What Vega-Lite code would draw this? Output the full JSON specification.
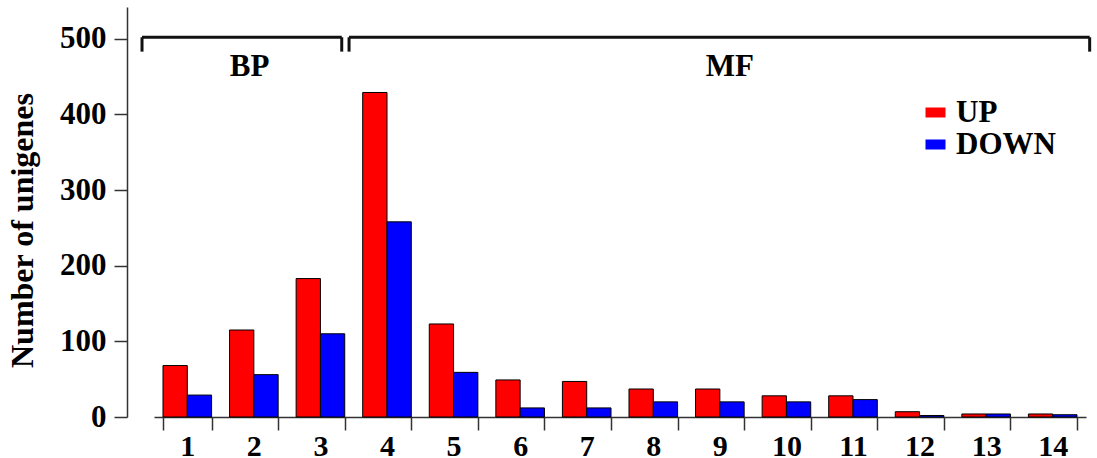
{
  "$schema": "https://vega.github.io/schema/vega-lite/v6.json",
  "width": 932,
  "height": 410,
  "autosize": {"type": "none"},
  "padding": {"left": 154, "top": 7, "right": 11, "bottom": 41},
  "background": "white",
  "config": {"view": {"stroke": null}, "font": "Liberation Serif"},
  "layer": [
    {
      "data": {"values": [
        {"category": 1, "series": "UP", "value": 68},
        {"category": 1, "series": "DOWN", "value": 29},
        {"category": 2, "series": "UP", "value": 115},
        {"category": 2, "series": "DOWN", "value": 56},
        {"category": 3, "series": "UP", "value": 183},
        {"category": 3, "series": "DOWN", "value": 110},
        {"category": 4, "series": "UP", "value": 429},
        {"category": 4, "series": "DOWN", "value": 258},
        {"category": 5, "series": "UP", "value": 123},
        {"category": 5, "series": "DOWN", "value": 59},
        {"category": 6, "series": "UP", "value": 49},
        {"category": 6, "series": "DOWN", "value": 12},
        {"category": 7, "series": "UP", "value": 47},
        {"category": 7, "series": "DOWN", "value": 12},
        {"category": 8, "series": "UP", "value": 37},
        {"category": 8, "series": "DOWN", "value": 20},
        {"category": 9, "series": "UP", "value": 37},
        {"category": 9, "series": "DOWN", "value": 20},
        {"category": 10, "series": "UP", "value": 28},
        {"category": 10, "series": "DOWN", "value": 20},
        {"category": 11, "series": "UP", "value": 28},
        {"category": 11, "series": "DOWN", "value": 23},
        {"category": 12, "series": "UP", "value": 7},
        {"category": 12, "series": "DOWN", "value": 2},
        {"category": 13, "series": "UP", "value": 4},
        {"category": 13, "series": "DOWN", "value": 4},
        {"category": 14, "series": "UP", "value": 4},
        {"category": 14, "series": "DOWN", "value": 3}
      ]},
      "mark": {"type": "bar", "stroke": "#000000", "strokeWidth": 1},
      "encoding": {
        "x": {
          "field": "category", "type": "ordinal",
          "scale": {"paddingInner": 0.27, "paddingOuter": 0.135},
          "axis": {
            "title": null, "labelAngle": 0, "tickBand": "extent",
            "labelFont": "Liberation Serif", "labelFontWeight": "bold", "labelFontSize": 30, "labelColor": "#000000",
            "tickSize": 13, "labelPadding": 1,
            "domainColor": "#333333", "tickColor": "#333333", "domainWidth": 1.5, "tickWidth": 1.5
          }
        },
        "xOffset": {"field": "series", "type": "nominal", "sort": ["UP", "DOWN"], "scale": {"paddingInner": 0, "paddingOuter": 0}},
        "y": {
          "field": "value", "type": "quantitative",
          "scale": {"domain": [0, 542], "nice": false},
          "axis": {
            "title": "Number of unigenes", "values": [0, 100, 200, 300, 400, 500], "offset": 27, "grid": false,
            "labelFont": "Liberation Serif", "labelFontWeight": "bold", "labelFontSize": 31, "labelColor": "#000000",
            "tickSize": 13, "labelPadding": 8,
            "domainColor": "#333333", "tickColor": "#333333", "domainWidth": 1.5, "tickWidth": 1.5,
            "titleFont": "Liberation Serif", "titleFontWeight": "bold", "titleFontSize": 32, "titleColor": "#000000",
            "titleX": -95, "titleY": 223, "titleAngle": -90, "titleBaseline": "alphabetic", "titleAlign": "center"
          }
        },
        "color": {
          "field": "series", "type": "nominal",
          "scale": {"domain": ["UP", "DOWN"], "range": ["#ff0000", "#0000ff"]},
          "legend": {
            "title": null, "orient": "none", "legendX": 766, "legendY": 90, "padding": 0,
            "symbolType": "M-1,-0.5H1V0.5H-1Z", "symbolSize": 400, "symbolStrokeWidth": 0,
            "labelFont": "Liberation Serif", "labelFontWeight": "bold", "labelFontSize": 31, "labelColor": "#000000",
            "rowPadding": 0, "labelOffset": 5
          }
        }
      }
    },
    {
      "data": {"values": [
        {"x": -0.18, "x2": 2.82, "y": 502, "y2": 502},
        {"x": -0.18, "x2": -0.18, "y": 483, "y2": 502},
        {"x": 2.82, "x2": 2.82, "y": 483, "y2": 502},
        {"x": 2.93, "x2": 14.055, "y": 502, "y2": 502},
        {"x": 2.93, "x2": 2.93, "y": 483, "y2": 502},
        {"x": 14.055, "x2": 14.055, "y": 483, "y2": 502}
      ]},
      "mark": {"type": "rule", "strokeWidth": 3, "color": "#111111"},
      "encoding": {
        "x": {"field": "x", "type": "quantitative", "scale": {"domain": [0, 14], "nice": false, "zero": false}, "axis": null},
        "x2": {"field": "x2"},
        "y": {"field": "y", "type": "quantitative"},
        "y2": {"field": "y2"}
      }
    },
    {
      "data": {"values": [
        {"x": 1.435, "y": 463, "label": "BP"},
        {"x": 8.65, "y": 463, "label": "MF"}
      ]},
      "mark": {"type": "text", "font": "Liberation Serif", "fontWeight": "bold", "fontSize": 31, "color": "#000000", "baseline": "middle"},
      "encoding": {
        "x": {"field": "x", "type": "quantitative", "scale": {"domain": [0, 14], "nice": false, "zero": false}, "axis": null},
        "y": {"field": "y", "type": "quantitative"},
        "text": {"field": "label"}
      }
    }
  ],
  "resolve": {"scale": {"x": "independent"}}
}
